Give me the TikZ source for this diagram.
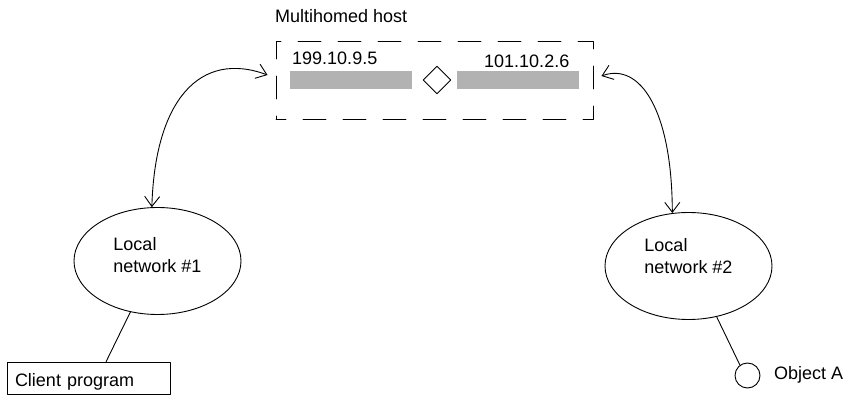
\documentclass[tikz,border=0pt]{standalone}
\usepackage{fontspec}
\setmainfont{Liberation Sans}
\usetikzlibrary{arrows.meta}
\usetikzlibrary{shapes.geometric}
\usetikzlibrary{positioning}
\tikzset{
	>={Straight Barb[length=10pt, width=15pt]},
	link/.style={black, line width=0.9pt},
	hostbox/.style={draw, line width=0.9pt, dash pattern=on 23pt off 17pt, dash phase=13pt,
		minimum width=317pt, minimum height=78pt, inner sep=0pt},
	nic/.style={fill=black!30, minimum width=122pt, minimum height=18pt, inner sep=0pt},
	router/.style={draw, diamond, line width=0.9pt, minimum width=28pt, minimum height=28pt, inner sep=0pt},
	lan/.style={draw, ellipse, line width=0.9pt, minimum width=167pt, minimum height=107pt,
		inner sep=0pt, align=left, font=\fontsize{18}{22}\selectfont},
	clientbox/.style={draw, line width=0.9pt, text width=147pt, inner xsep=8pt, inner ysep=0pt,
		minimum height=32pt, text height=17pt, text depth=0pt, align=left},
	objdot/.style={draw, circle, line width=0.9pt, minimum size=25pt, inner sep=0pt},
	txt/.style={font=\fontsize{18}{22}\selectfont, inner sep=0pt, anchor=base west}
}

\begin{document}
\begin{tikzpicture}[x=1pt, y=-1pt, line cap=round, line join=round]
	\useasboundingbox (0,0) rectangle (846,395);
	\tikzset{every node/.append style={font=\fontsize{18}{22}\selectfont}}
	
	% Multihomed host with its two interfaces
	\node[txt] (hosttitle) at (275,23) {Multihomed host};
	\node[hostbox] (host) at (434.5,80) {};
	\node[nic] (nicA) at (351,80) {};
	\node[nic] (nicB) at (517.5,80) {};
	\node[router] (hub) at (437,80) {};
	\node[txt] (ipA) at (292,65) {199.10.9.5};
	\node[txt] (ipB) at (484,68) {101.10.2.6};
	
	% Local networks
	\node[lan, text height=24pt] (net1) at (157.5,261) {Local\\network \#1};
	\node[lan, text height=15pt] (net2) at (688.5,266) {Local\\network \#2};
	
	% Client and object
	\node[clientbox] (client) at (88.5,378) {Client program};
	\node[objdot] (obj) at (747.5,375.5) {};
	\node[txt] (objtext) at (774,379) {Object A};
	
	% Links between host and networks
	\draw[link, <->] (net1.96) .. controls (155,100) and (200,50) .. ([xshift=-8pt, yshift=5pt]host.west);
	\draw[link, <->] ([xshift=8pt, yshift=4pt]host.east) .. controls (640,62) and (672,110) .. (net2.107);
	
	% Attachments
	\draw[link] (net1.-118) -- (client.43);
	\draw[link] (net2.-61) -- (obj.126);
	
\end{tikzpicture}
\end{document}
